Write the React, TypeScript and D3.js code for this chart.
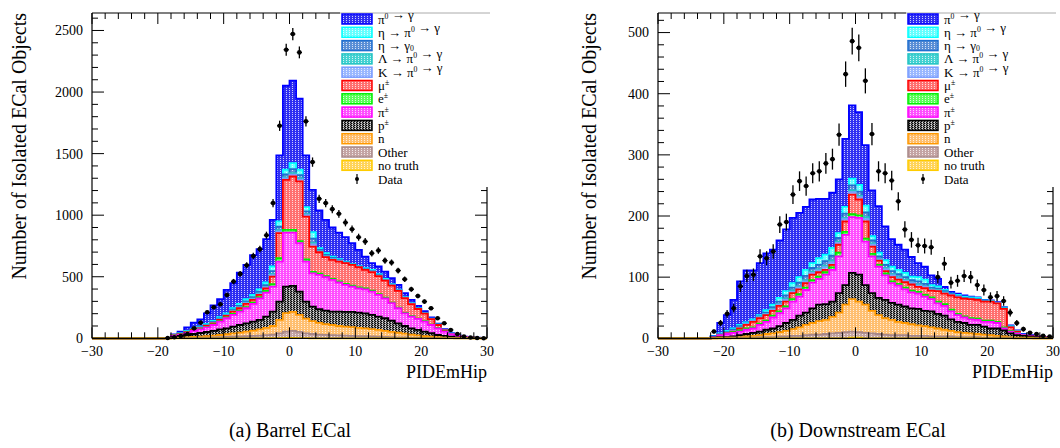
import * as d3 from "d3";

// histogram bins are 1 unit wide; arrays start at bin [-22,-21)
const BIN_LO = -22;
const X_MIN = -30;
const X_MAX = 30;

const LABELS: [string, string][][] = [
  [["π", ""], ["0", "sup"], [" → γ", ""]],
  [["η → π", ""], ["0", "sup"], [" → γ", ""]],
  [["η → γ", ""], ["0", "sub"]],
  [["Λ → π", ""], ["0", "sup"], [" → γ", ""]],
  [["K → π", ""], ["0", "sup"], [" → γ", ""]],
  [["μ", ""], ["±", "sup"]],
  [["e", ""], ["±", "sup"]],
  [["π", ""], ["±", "sup"]],
  [["p", ""], ["±", "sup"]],
  [["n", ""]],
  [["Other", ""]],
  [["no truth", ""]],
];

const FILLS = ["#2f2ff2", "#66ffff", "#5b8fd6", "#44d2d2", "#9ab8ff", "#ff7070", "#5cff5c", "#ff50ff", "#7a7a7a", "#ffbf70", "#c4a4a4", "#ffd45a"];
const LINES = ["#0000ff", "#00ffff", "#1f6fd0", "#22c4c4", "#7a9cff", "#ff0000", "#00ee00", "#ff00ff", "#000000", "#ff9900", "#a88888", "#ffcc00"];

// ---------- Barrel ECal (bins -22 .. 29) ----------
const barrelPi0 = [0, 0, 0, 1, 4, 12, 29, 48, 59, 86, 127, 146, 190, 203, 255, 279, 323, 326, 352, 379, 536, 682, 669, 577, 420, 344, 306, 271, 236, 217, 198, 168, 130, 95, 55, 63, 60, 48, 39, 31, 27, 18, 15, 10, 8, 7, 4, 3, 2, 1, 1, 1];
const barrelEtaPi0 = [0, 0, 0, 0, 2, 3, 5, 5, 7, 7, 8, 10, 10, 12, 16, 17, 18, 20, 21, 37, 43, 37, 49, 43, 34, 52, 15, 14, 12, 8, 6, 4, 5, 6, 7, 7, 7, 5, 4, 4, 3, 3, 2, 2, 2, 2, 1, 1, 1, 0, 0, 0];
const barrelEtaGamma = [0, 0, 0, 0, 1, 2, 3, 3, 4, 5, 6, 7, 6, 8, 10, 11, 12, 14, 14, 25, 28, 25, 33, 28, 23, 35, 10, 10, 8, 6, 4, 2, 3, 4, 5, 4, 4, 4, 3, 2, 2, 2, 2, 2, 1, 1, 1, 0, 0, 0, 0, 0];
const barrelLambda = [0, 0, 0, 0, 0, 1, 1, 1, 1, 2, 2, 2, 2, 3, 4, 4, 4, 5, 5, 8, 10, 8, 11, 10, 8, 12, 3, 3, 3, 2, 1, 1, 1, 1, 2, 2, 1, 1, 1, 1, 1, 1, 0, 0, 0, 0, 0, 0, 0, 0, 0, 0];
const barrelKaon = [0, 0, 0, 0, 1, 1, 2, 2, 2, 3, 3, 3, 3, 4, 5, 6, 6, 7, 7, 12, 14, 12, 16, 14, 11, 18, 5, 5, 4, 3, 2, 1, 2, 2, 3, 2, 2, 2, 2, 1, 1, 1, 1, 1, 1, 0, 0, 0, 0, 0, 0, 0];
const barrelMu = [0, 0, 0, 0, 2, 3, 4, 5, 5, 7, 9, 9, 12, 19, 19, 25, 22, 17, 21, 61, 204, 407, 434, 484, 349, 205, 174, 154, 154, 161, 168, 168, 164, 151, 152, 147, 137, 138, 136, 120, 99, 78, 60, 45, 24, 9, 1, 0, 1, 1, 1, 0];
const barrelE = [0, 0, 0, 0, 3, 2, 2, 3, 3, 4, 5, 5, 7, 8, 8, 10, 11, 10, 14, 20, 27, 21, 21, 18, 17, 12, 10, 9, 9, 9, 8, 8, 7, 7, 7, 6, 6, 5, 5, 4, 3, 3, 4, 2, 3, 2, 1, 1, 0, 0, 0, 0];
const barrelPiPM = [0, 0, 0, 1, 9, 11, 16, 25, 30, 38, 48, 62, 82, 95, 109, 122, 144, 176, 195, 203, 325, 439, 434, 393, 325, 271, 279, 271, 257, 236, 220, 206, 197, 195, 189, 176, 162, 141, 122, 103, 95, 89, 82, 67, 54, 35, 20, 11, 6, 3, 2, 1];
const barrelP = [0, 0, 0, 1, 7, 14, 19, 24, 29, 33, 38, 46, 48, 55, 62, 68, 73, 77, 91, 117, 148, 215, 210, 189, 138, 117, 111, 110, 109, 117, 119, 124, 124, 123, 115, 108, 103, 92, 77, 62, 51, 44, 36, 28, 18, 13, 10, 6, 3, 2, 1, 1];
const barrelN = [0, 0, 0, 0, 2, 3, 5, 7, 9, 12, 14, 18, 22, 27, 31, 37, 43, 50, 59, 70, 110, 150, 155, 138, 120, 105, 95, 87, 82, 76, 73, 70, 67, 63, 60, 55, 49, 42, 37, 31, 24, 19, 14, 10, 7, 5, 3, 2, 1, 1, 0, 0];
const barrelOther = [0, 0, 0, 0, 1, 2, 3, 4, 5, 6, 8, 9, 11, 13, 15, 17, 19, 22, 26, 29, 38, 52, 57, 50, 39, 35, 30, 28, 26, 24, 22, 20, 18, 17, 15, 13, 11, 10, 8, 7, 6, 5, 4, 3, 2, 1, 1, 0, 0, 0, 0, 0];
const barrelNoTruth = [0, 0, 0, 0, 0, 0, 0, 0, 0, 0, 0, 0, 0, 0, 0, 0, 0, 0, 0, 1, 2, 3, 3, 2, 1, 0, 0, 0, 0, 0, 0, 0, 0, 0, 0, 0, 0, 0, 0, 0, 0, 0, 0, 0, 0, 0, 0, 0, 0, 0, 0, 0];
const barrelData = [0, 0, 0, 2, 8, 18, 35, 81, 127, 211, 252, 276, 352, 461, 523, 593, 669, 724, 837, 1098, 1726, 2344, 2471, 2322, 1762, 1431, 1133, 1098, 1049, 1011, 940, 886, 821, 786, 691, 713, 631, 615, 550, 480, 398, 344, 298, 244, 163, 122, 68, 35, 15, 6, 3, 1];

// ---------- Downstream ECal (bins -22 .. 29) ----------
const downPi0 = [1, 17, 26, 47, 71, 85, 80, 85, 93, 90, 94, 101, 107, 105, 103, 104, 97, 91, 90, 88, 111, 120, 119, 99, 75, 76, 55, 45, 41, 38, 32, 23, 21, 16, 12, 5, 3, 2, 2, 1, 1, 1, 1, 1, 1, 1, 1, 1, 1, 0, 0, 0];
const downEtaPi0 = [1, 1, 2, 2, 2, 2, 2, 2, 4, 4, 6, 7, 7, 9, 10, 8, 11, 11, 13, 8, 11, 11, 11, 11, 7, 6, 8, 7, 7, 7, 6, 7, 7, 4, 4, 2, 1, 2, 2, 2, 2, 1, 1, 1, 1, 1, 1, 1, 0, 0, 0, 0];
const downEtaGamma = [0, 1, 1, 2, 2, 1, 1, 1, 2, 3, 4, 5, 5, 6, 7, 6, 7, 7, 8, 6, 7, 8, 7, 8, 5, 4, 5, 5, 5, 4, 4, 5, 4, 3, 2, 2, 1, 1, 1, 1, 1, 1, 0, 0, 1, 1, 0, 0, 0, 0, 0, 0];
const downLambda = [0, 0, 0, 0, 1, 0, 0, 1, 1, 1, 1, 2, 2, 2, 2, 2, 2, 3, 3, 2, 2, 3, 2, 3, 2, 1, 2, 2, 2, 2, 1, 2, 1, 1, 1, 1, 0, 0, 0, 0, 0, 0, 0, 0, 0, 0, 0, 0, 0, 0, 0, 0];
const downKaon = [0, 1, 1, 1, 1, 1, 1, 1, 1, 2, 2, 3, 2, 3, 3, 3, 3, 4, 4, 3, 4, 4, 4, 4, 3, 2, 3, 3, 2, 2, 2, 2, 2, 1, 1, 1, 1, 1, 0, 0, 0, 0, 0, 0, 0, 0, 0, 0, 0, 0, 0, 0];
const downMu = [0, 0, 1, 1, 3, 6, 9, 9, 9, 8, 9, 8, 10, 8, 7, 9, 7, 4, 4, 13, 17, 32, 26, 28, 12, 7, 4, 7, 7, 9, 10, 8, 11, 11, 17, 17, 23, 27, 29, 31, 31, 31, 31, 30, 30, 6, 2, 0, 0, 0, 0, 0];
const downE = [0, 0, 0, 1, 2, 2, 2, 2, 2, 3, 3, 3, 4, 4, 4, 4, 4, 4, 4, 6, 5, 5, 4, 5, 4, 3, 3, 3, 3, 3, 3, 3, 3, 3, 3, 3, 3, 2, 2, 2, 2, 2, 2, 2, 2, 1, 1, 0, 0, 0, 0, 0];
const downPiPM = [1, 3, 5, 6, 6, 7, 7, 11, 13, 18, 21, 24, 30, 31, 37, 42, 42, 48, 52, 60, 82, 91, 93, 71, 60, 51, 40, 32, 31, 28, 26, 25, 23, 20, 17, 16, 13, 11, 9, 9, 8, 8, 11, 9, 3, 3, 3, 1, 1, 1, 1, 0];
const downP = [1, 1, 1, 2, 3, 4, 5, 6, 7, 8, 10, 13, 15, 19, 20, 24, 27, 26, 25, 32, 32, 43, 44, 32, 29, 28, 30, 28, 28, 27, 26, 27, 25, 26, 24, 23, 19, 17, 16, 14, 15, 13, 11, 12, 10, 6, 4, 3, 2, 2, 1, 1];
const downN = [0, 1, 1, 0, 1, 2, 3, 3, 5, 6, 7, 9, 11, 14, 17, 19, 22, 23, 27, 33, 45, 53, 50, 46, 37, 31, 27, 25, 22, 20, 19, 17, 16, 15, 13, 11, 9, 8, 7, 6, 5, 5, 4, 3, 2, 1, 1, 1, 1, 0, 0, 0];
const downOther = [0, 0, 0, 1, 1, 1, 1, 2, 2, 2, 3, 3, 4, 4, 5, 6, 6, 7, 8, 9, 10, 10, 9, 9, 8, 7, 6, 5, 5, 5, 4, 4, 4, 3, 3, 3, 3, 2, 2, 2, 2, 1, 1, 1, 1, 1, 0, 0, 0, 0, 0, 0];
const downNoTruth = [0, 0, 0, 0, 0, 0, 0, 0, 0, 0, 0, 0, 0, 0, 0, 0, 0, 0, 0, 0, 0, 1, 1, 0, 0, 0, 0, 0, 0, 0, 0, 0, 0, 0, 0, 0, 0, 0, 0, 0, 0, 0, 0, 0, 0, 0, 0, 0, 0, 0, 0, 0];
const downData = [11, 25, 40, 49, 85, 102, 104, 134, 131, 142, 186, 190, 235, 257, 249, 270, 273, 286, 293, 333, 432, 486, 475, 421, 334, 273, 270, 258, 224, 178, 161, 152, 151, 149, 100, 122, 91, 94, 102, 100, 87, 79, 67, 69, 61, 42, 25, 15, 9, 7, 4, 3];

const barrelLayers = [barrelPi0, barrelEtaPi0, barrelEtaGamma, barrelLambda, barrelKaon, barrelMu, barrelE, barrelPiPM, barrelP, barrelN, barrelOther, barrelNoTruth];
const downLayers = [downPi0, downEtaPi0, downEtaGamma, downLambda, downKaon, downMu, downE, downPiPM, downP, downN, downOther, downNoTruth];

const FONT = "'Liberation Serif', 'Times New Roman', serif";
const Y_TOP = 13;
const Y_BOT = 338.3;
const LEG_BOTTOM = 187;

type Pt = { x: number; v: number };

function Label({ parts, x, y, size }: { parts: [string, string][]; x: number; y: number; size: number }) {
  const out: any[] = [];
  parts.forEach(([t, m], i) => {
    if (m === "") {
      out.push(<tspan key={i}>{t}</tspan>);
      return;
    }
    const shift = m === "sup" ? -size * 0.38 : size * 0.1;
    out.push(
      <tspan key={i} fontSize={size * 0.6} dy={shift}>
        {t}
      </tspan>
    );
    // back to the baseline for whatever follows the script
    if (i < parts.length - 1) out.push(<tspan key={"r" + i} dy={-shift} />);
  });
  return (
    <text x={x} y={y} fontFamily={FONT} fontSize={size} fill="#000">
      {out}
    </text>
  );
}

function Panel(props: {
  x0: number; x1: number; yMax: number; yMajor: number; yMinor: number;
  layers: number[][]; data: number[]; legendX: number; yTitleX: number;
}) {
  const { x0, x1, yMax, yMajor, yMinor, layers, data, legendX, yTitleX } = props;
  const xs = d3.scaleLinear().domain([X_MIN, X_MAX]).range([x0, x1]);
  const ys = d3.scaleLinear().domain([0, yMax]).range([Y_BOT, Y_TOP]);
  const nb = X_MAX - X_MIN;
  const full = (arr: number[]) =>
    d3.range(nb).map((i) => {
      const j = X_MIN + i - BIN_LO;
      return j >= 0 && j < arr.length ? arr[j] : 0;
    });
  const padded = layers.map(full);
  // cumulative sum from the bottom of the stack (last legend entry) up to layer i
  const cum = padded.map((_, i) => d3.range(nb).map((b) => d3.sum(padded.slice(i), (a) => a[b])));
  const pts = (vals: number[]): Pt[] => [...vals.map((v, i) => ({ x: X_MIN + i, v })), { x: X_MAX, v: vals[nb - 1] }];
  const area = d3.area<Pt>().x((d) => xs(d.x)).y0(Y_BOT).y1((d) => ys(d.v)).curve(d3.curveStepAfter);
  const line = d3.line<Pt>().x((d) => xs(d.x)).y((d) => ys(d.v)).curve(d3.curveStepAfter);

  const yMaj = d3.range(0, yMax + 1, yMajor);
  const yMin = d3.range(0, yMax + 1, yMinor);
  const xMaj = d3.range(X_MIN, X_MAX + 1, 10);
  const xMin = d3.range(X_MIN, X_MAX + 1, 2);
  const dataFull = full(data);

  return (
    <g>
      {cum.map((vals, i) => (
        <g key={i}>
          <path d={area(pts(vals)) || ""} fill={`url(#pat${i})`} />
          <path d={line(pts(vals)) || ""} fill="none" stroke={LINES[i]} strokeWidth={1.8} />
        </g>
      ))}
      {dataFull.map((v, i) => {
        if (v <= 0) return null;
        const cx = xs(X_MIN + i + 0.5);
        const e = Math.sqrt(v);
        return (
          <g key={"d" + i}>
            <line x1={cx} x2={cx} y1={ys(v - e)} y2={ys(v + e)} stroke="#000" strokeWidth={1.3} />
            <line x1={cx - 2.6} x2={cx + 2.6} y1={ys(v)} y2={ys(v)} stroke="#000" strokeWidth={1.3} />
            <circle cx={cx} cy={ys(v)} r={2.3} fill="#000" />
          </g>
        );
      })}
      {/* frame */}
      <line x1={x0} x2={x0} y1={Y_TOP} y2={Y_BOT} stroke="#000" strokeWidth={1.2} />
      <line x1={x0} x2={x1} y1={Y_BOT} y2={Y_BOT} stroke="#000" strokeWidth={1.2} />
      <line x1={x0} x2={legendX} y1={Y_TOP} y2={Y_TOP} stroke="#000" strokeWidth={1.2} />
      <line x1={x1} x2={x1} y1={LEG_BOTTOM} y2={Y_BOT} stroke="#000" strokeWidth={1.2} />
      {yMin.map((v) => {
        const y = ys(v);
        const len = v % yMajor === 0 ? 12 : 6;
        return (
          <g key={"yt" + v}>
            <line x1={x0} x2={x0 + len} y1={y} y2={y} stroke="#000" strokeWidth={1} />
            {y > LEG_BOTTOM && <line x1={x1} x2={x1 - len} y1={y} y2={y} stroke="#000" strokeWidth={1} />}
          </g>
        );
      })}
      {xMin.map((v) => {
        const x = xs(v);
        const len = v % 10 === 0 ? 11 : 6;
        return (
          <g key={"xt" + v}>
            <line x1={x} x2={x} y1={Y_BOT} y2={Y_BOT - len} stroke="#000" strokeWidth={1} />
            {x < legendX - 1 && <line x1={x} x2={x} y1={Y_TOP} y2={Y_TOP + len} stroke="#000" strokeWidth={1} />}
          </g>
        );
      })}
      {yMaj.map((v) => (
        <text key={"yl" + v} x={x0 - 9} y={ys(v)} dy="0.35em" textAnchor="end" fontFamily={FONT} fontSize={14}>
          {v}
        </text>
      ))}
      {xMaj.map((v) => (
        <text key={"xl" + v} x={xs(v)} y={356} textAnchor="middle" fontFamily={FONT} fontSize={14}>
          {v < 0 ? "−" + Math.abs(v) : v}
        </text>
      ))}
      <text x={x1} y={378} textAnchor="end" fontFamily={FONT} fontSize={18}>PIDEmHip</text>
      <text transform={`translate(${yTitleX},${Y_TOP}) rotate(-90)`} textAnchor="end" fontFamily={FONT} fontSize={20}>
        Number of Isolated ECal Objects
      </text>
      {/* legend */}
      <rect x={legendX} y={Y_TOP} width={x1 + 3 - legendX} height={LEG_BOTTOM - Y_TOP - 1} fill="#fff" />
      <line x1={legendX} x2={x1 + 3} y1={Y_TOP} y2={Y_TOP} stroke="#aaa" strokeWidth={1} />
      {LABELS.map((parts, i) => {
        const cy = 19 + i * 13.3;
        return (
          <g key={"lg" + i}>
            <rect x={legendX + 2} y={cy - 5} width={30} height={10} fill={`url(#pat${i})`} stroke={LINES[i]} strokeWidth={1.5} />
            <Label parts={parts} x={legendX + 38} y={cy + 4.5} size={13} />
          </g>
        );
      })}
      <g>
        <line x1={legendX + 17} x2={legendX + 17} y1={179 - 5} y2={179 + 5} stroke="#000" strokeWidth={1.2} />
        <circle cx={legendX + 17} cy={179} r={2} fill="#000" />
        <text x={legendX + 38} y={183.5} fontFamily={FONT} fontSize={13}>Data</text>
      </g>
    </g>
  );
}

export default function App() {
  return (
    <svg width={1060} height={448} style={{ position: "absolute", left: 0, top: 0, background: "#fff" }}>
      <defs>
        {FILLS.map((c, i) => (
          <pattern key={i} id={`pat${i}`} width={3} height={2} patternUnits="userSpaceOnUse">
            <rect width={3} height={2} fill={c} />
            {i === 8 ? (
              <>
                <rect x={0} y={1} width={1} height={1} fill="#000" />
                <rect x={2} y={0} width={1} height={1} fill="#111" />
                <rect x={1} y={0} width={1} height={1} fill="#fff" opacity={0.8} />
              </>
            ) : (
              <rect x={1} y={0} width={1} height={1} fill="#fff" opacity={0.75} />
            )}
          </pattern>
        ))}
      </defs>
      <Panel x0={92} x1={487} yMax={2642} yMajor={500} yMinor={100} layers={barrelLayers} data={barrelData} legendX={340} yTitleX={25.5} />
      <Panel x0={658} x1={1053} yMax={532} yMajor={100} yMinor={20} layers={downLayers} data={downData} legendX={906} yTitleX={596} />
      <text x={290} y={437} textAnchor="middle" fontFamily={FONT} fontSize={20}>(a) Barrel ECal</text>
      <text x={858} y={437} textAnchor="middle" fontFamily={FONT} fontSize={20}>(b) Downstream ECal</text>
    </svg>
  );
}
